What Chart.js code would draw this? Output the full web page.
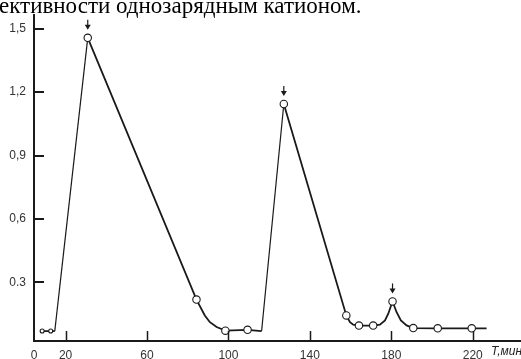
<!DOCTYPE html>
<html>
<head>
<meta charset="utf-8">
<script src="https://cdn.jsdelivr.net/npm/chart.js@4"></script>
<style>
  html, body { margin: 0; padding: 0; background: #fff; }
  #box { position: relative; width: 521px; height: 359px; }
</style>
</head>
<body>
<div id="box"><canvas id="myChart" width="521" height="359"></canvas></div>
<script>
// time, min
const t = [8.5, 12.7, 14.7, 30.9, 84.3, 88.4, 90.9, 94.2, 98.5, 109.4, 116.3, 127.2,
  157.9, 159.7, 161.3, 164.1, 171.1, 174.4, 176.9, 178.5, 180.6, 182.6, 184.7, 187.5,
  190.8, 202.8, 219.5, 226.8];
const v = [0.070, 0.070, 0.070, 1.457, 0.219, 0.144, 0.112, 0.089, 0.072, 0.076, 0.070, 1.144,
  0.144, 0.112, 0.100, 0.096, 0.096, 0.100, 0.120, 0.152, 0.210, 0.159, 0.120, 0.097,
  0.084, 0.083, 0.083, 0.083];
// 1 = measured point (circle), 0 = just the curve
const measured = [1, 1, 0, 1, 1, 0, 0, 0, 1, 1, 0, 1, 1, 0, 0, 1, 1, 0, 0, 0, 1, 0, 0, 0, 1, 1, 1, 0];
// arrows over the injection peaks
const arrowsAt = [30.9, 127.2, 180.6];

const xTicks = [4.5, 20, 60, 100, 140, 180, 220];
const xTickLabels = ["0", "20", "60", "100", "140", "180", "220"];
const yTicks = [0.3, 0.6, 0.9, 1.2, 1.5];
const yTickLabels = ["0.3", "0,6", "0,9", "1,2", "1,5"];

const titleText = "ективности однозарядным катионом.";
const xAxisName = "T,мин";

const points = t.map((x, i) => ({ x: x, y: v[i] }));

const extras = {
  id: "extras",
  beforeDraw(chart) {
    const ctx = chart.ctx;
    ctx.save();
    ctx.fillStyle = "#000";
    ctx.font = "23px 'Liberation Serif'";
    ctx.textBaseline = "alphabetic";
    ctx.fillText(titleText, -1, 13);
    ctx.restore();
  },
  afterDraw(chart) {
    const ctx = chart.ctx;
    const xs = chart.scales.x;
    const ys = chart.scales.y;
    const area = chart.chartArea;
    ctx.save();
    ctx.strokeStyle = "#1a1a1a";
    // inward ticks
    ctx.lineWidth = 1.5;
    for (let i = 1; i < xTicks.length; i++) {
      const px = Math.round(xs.getPixelForValue(xTicks[i])) + 0.5;
      ctx.beginPath();
      ctx.moveTo(px, area.bottom);
      ctx.lineTo(px, area.bottom - 10);
      ctx.stroke();
    }
    ctx.lineWidth = 2;
    for (let i = 0; i < yTicks.length; i++) {
      const py = Math.round(ys.getPixelForValue(yTicks[i]));
      ctx.beginPath();
      ctx.moveTo(area.left, py);
      ctx.lineTo(area.left + 10, py);
      ctx.stroke();
    }
    // arrows
    ctx.lineWidth = 1.2;
    ctx.fillStyle = "#1a1a1a";
    arrowsAt.forEach((ax) => {
      const i = t.indexOf(ax);
      const px = xs.getPixelForValue(ax);
      const py = ys.getPixelForValue(v[i]);
      ctx.beginPath();
      ctx.moveTo(px, py - 18);
      ctx.lineTo(px, py - 12);
      ctx.stroke();
      ctx.beginPath();
      ctx.moveTo(px - 3, py - 13);
      ctx.lineTo(px + 3, py - 13);
      ctx.lineTo(px, py - 8);
      ctx.closePath();
      ctx.fill();
    });
    // axis name
    ctx.fillStyle = "#222";
    ctx.font = "italic 12px 'Liberation Sans'";
    ctx.textBaseline = "middle";
    ctx.fillText(xAxisName, 491, 352);
    ctx.restore();
  }
};

const config = {
  type: "line",
  data: {
    datasets: [
      {
        data: points,
        borderColor: "#1a1a1a",
        borderWidth: 1.8,
        tension: 0,
        pointRadius: measured.map((m, i) => (m ? (i < 2 ? 2 : 3.7) : 0)),
        pointBackgroundColor: "#fff",
        pointBorderColor: "#1a1a1a",
        pointBorderWidth: 1.1,
        segment: {
          borderWidth: (c) => (c.p1.parsed.y - c.p0.parsed.y > 0.3 ? 1.2 : 1.8)
        }
      }
    ]
  },
  options: {
    responsive: false,
    animation: false,
    events: [],
    layout: { autoPadding: false, padding: { top: 12, right: 0, left: 0, bottom: 0 } },
    plugins: { legend: { display: false }, tooltip: { enabled: false } },
    scales: {
      x: {
        type: "linear",
        min: 4.5,
        max: 243.7,
        afterBuildTicks: (s) => { s.ticks = xTicks.map((x) => ({ value: x })); },
        afterFit: (s) => { s.height = 18; s.paddingRight = 0; s.paddingLeft = 0; },
        grid: { drawOnChartArea: false, drawTicks: false },
        border: { color: "#1a1a1a", width: 2 },
        ticks: {
          padding: 7,
          autoSkip: false,
          maxRotation: 0,
          color: "#333",
          font: { family: "'Liberation Sans'", size: 12 },
          callback: (val, i) => xTickLabels[i]
        }
      },
      y: {
        min: 0.023,
        max: 1.564,
        afterBuildTicks: (s) => { s.ticks = yTicks.map((y) => ({ value: y })); },
        afterFit: (s) => { s.width = 34; },
        grid: { drawOnChartArea: false, drawTicks: false },
        border: { color: "#1a1a1a", width: 2 },
        ticks: {
          padding: 8,
          color: "#333",
          font: { family: "'Liberation Sans'", size: 12 },
          callback: (val, i) => yTickLabels[i]
        }
      }
    }
  },
  plugins: [extras]
};

const myChart = new Chart(document.getElementById("myChart"), config);
</script>
</body>
</html>
